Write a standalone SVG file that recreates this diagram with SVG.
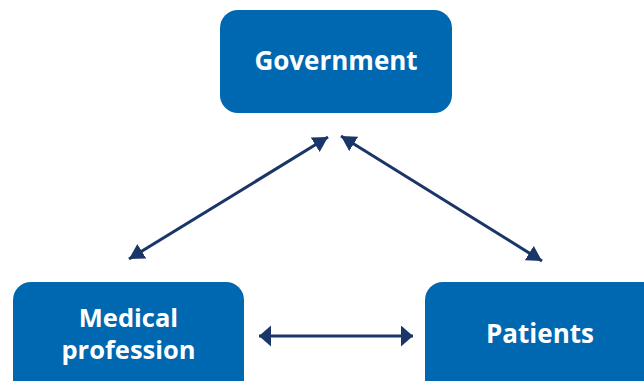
<svg xmlns="http://www.w3.org/2000/svg" width="644" height="381" viewBox="0 0 644 381">
  <style>
    .box { fill: #0067b1; }
    .label { fill: #ffffff; font-family: "Open Sans", "Noto Sans", "DejaVu Sans", sans-serif; font-weight: 700; font-size: 26px; text-anchor: middle; }
    .tight { font-size: 25.5px; }
    .link { stroke: #1a3668; stroke-width: 3; fill: none; }
  </style>
  <defs>
    <marker id="head" markerUnits="userSpaceOnUse" markerWidth="16" markerHeight="18" refX="15" refY="8.5" orient="auto-start-reverse">
      <path d="M0,0 L15,8.5 L0,17 z" fill="#1a3668"/>
    </marker>
    <marker id="headFlat" markerUnits="userSpaceOnUse" markerWidth="13" markerHeight="22" refX="12" refY="10.5" orient="auto-start-reverse">
      <path d="M0,0 L12,10.5 L0,21 z" fill="#1a3668"/>
    </marker>
  </defs>

  <g id="government">
    <rect class="box" x="220" y="10" width="232" height="103" rx="18" ry="18"/>
    <text class="label" x="336" y="70">Government</text>
  </g>

  <g id="medical-profession">
    <rect class="box" x="13" y="282" width="231" height="120" rx="18" ry="18"/>
    <text class="label tight" x="128.5" y="327">Medical</text>
    <text class="label tight" x="128.5" y="359">profession</text>
  </g>

  <g id="patients">
    <rect class="box" x="425" y="282" width="240" height="120" rx="18" ry="18"/>
    <text class="label" x="540" y="343">Patients</text>
  </g>

  <g id="connectors">
    <line class="link" x1="129" y1="259" x2="328" y2="137" marker-start="url(#head)" marker-end="url(#head)"/>
    <line class="link" x1="341" y1="136" x2="542" y2="261" marker-start="url(#head)" marker-end="url(#head)"/>
    <line class="link" x1="259" y1="336" x2="413" y2="336" marker-start="url(#headFlat)" marker-end="url(#headFlat)"/>
  </g>
</svg>
